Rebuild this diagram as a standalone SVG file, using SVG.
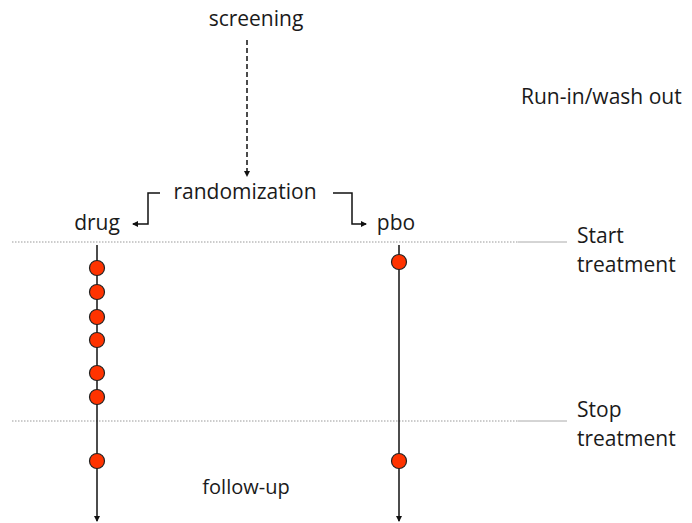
<svg xmlns="http://www.w3.org/2000/svg" width="692" height="523" viewBox="0 0 692 523">
<style>
text{font-family:"Open Sans","Liberation Sans",sans-serif;font-size:21px;fill:#1a1a1a}
.c{text-anchor:middle}
.dot{fill:#ff3300;stroke:#222;stroke-width:1.2}
.ln{stroke:#111;stroke-width:1.5;fill:none}
.sep{stroke:#999;stroke-width:1;stroke-dasharray:1.5 1.5}
</style>
<defs>
<marker id="ah" viewBox="0 0 6 6" refX="5" refY="3" markerWidth="6" markerHeight="6" orient="auto" markerUnits="userSpaceOnUse">
<path d="M0,0 L6,3 L0,6 Z" fill="#111"/>
</marker>
</defs>
<g id="lines">
<line class="sep" x1="12" y1="242" x2="518" y2="242"/>
<line x1="518" y1="242" x2="567" y2="242" stroke="#aaa" stroke-width="1"/>
<line class="sep" x1="12" y1="421" x2="518" y2="421"/>
<line x1="518" y1="421" x2="567" y2="421" stroke="#aaa" stroke-width="1"/>
</g>
<g id="connectors">
<line class="ln" x1="247" y1="40" x2="247" y2="176" stroke-dasharray="5 3" marker-end="url(#ah)"/>
<polyline class="ln" points="160,193 148,193 148,224 133,224" marker-end="url(#ah)"/>
<polyline class="ln" points="333,193 352,193 352,224 366,224" marker-end="url(#ah)"/>
<line class="ln" x1="97" y1="245" x2="97" y2="521" marker-end="url(#ah)"/>
<line class="ln" x1="399" y1="245" x2="399" y2="521" marker-end="url(#ah)"/>
</g>
<g id="screening"><text class="c" x="256" y="26">screening</text></g>
<g id="randomization"><text class="c" x="245" y="199">randomization</text></g>
<g id="drug"><text class="c" x="97" y="230">drug</text></g>
<g id="pbo"><text class="c" x="396" y="230">pbo</text></g>
<g id="runin"><text x="521" y="104">Run-in/wash out</text></g>
<g id="start"><text x="577" y="243">Start</text><text x="577" y="272">treatment</text></g>
<g id="stop"><text x="577" y="417">Stop</text><text x="577" y="446">treatment</text></g>
<g id="followup"><text class="c" x="246" y="494" style="font-size:20px">follow-up</text></g>
<g id="drug-visits">
<circle class="dot" cx="97" cy="268" r="7.5"/>
<circle class="dot" cx="97" cy="292" r="7.5"/>
<circle class="dot" cx="97" cy="317" r="7.5"/>
<circle class="dot" cx="97" cy="340" r="7.5"/>
<circle class="dot" cx="97" cy="373" r="7.5"/>
<circle class="dot" cx="97" cy="397" r="7.5"/>
<circle class="dot" cx="97" cy="461" r="7.5"/>
</g>
<g id="pbo-visits">
<circle class="dot" cx="399" cy="262" r="7.5"/>
<circle class="dot" cx="399" cy="461" r="7.5"/>
</g>
</svg>
